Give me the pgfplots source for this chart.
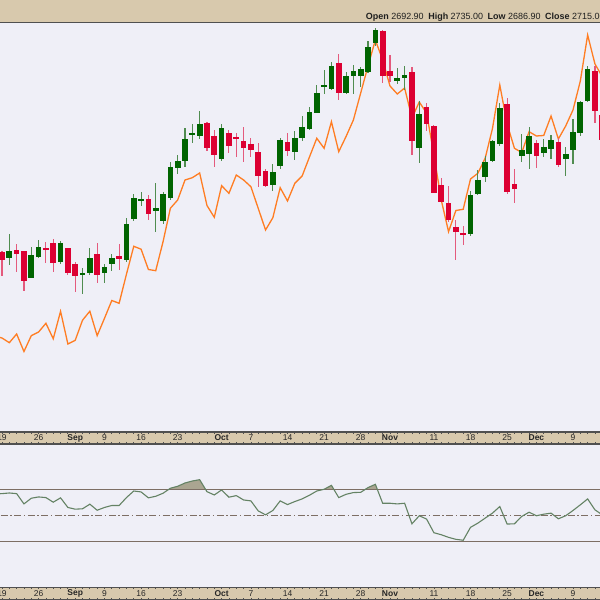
\documentclass[border=0pt]{standalone}
\usepackage{pgfplots}
\pgfplotsset{compat=1.18}
\usepackage{pgfplotstable}
\usepackage{fontspec}
\setmainfont{Liberation Sans}
\definecolor{bg}{RGB}{239,239,247}
\definecolor{tanb}{RGB}{216,201,173}
\definecolor{frame}{RGB}{80,80,80}
\definecolor{up}{RGB}{0,100,0}
\definecolor{down}{RGB}{220,0,50}
\definecolor{upw}{RGB}{80,140,80}
\definecolor{downw}{RGB}{228,90,125}
\definecolor{ora}{RGB}{255,125,35}
\definecolor{rsic}{RGB}{100,130,100}
\definecolor{lvl}{RGB}{125,110,100}
\definecolor{shade}{RGB}{170,165,145}

% candle data: body top, body bottom, high, low (chart units, downward)
\pgfplotstableread{
i bt bb hi lo
1 251 258.3 233.7 265
4 255 278.3 247.3 278.3
5 247.3 257.3 240 258.3
8 242.7 261.7 241 264.3
11 273 274.7 267.7 294.3
12 258 273 248.3 275
14 267 273.3 264 283.3
15 257.7 264.3 254.3 271
17 224.3 260 217.7 261.7
18 197.7 219 194.3 221
19 199.5 201 192.3 205.7
21 208.3 211 183.3 232.3
22 194.3 221 191.7 224.3
23 166.7 198.3 161.7 200
24 161 167.7 155 174
25 139 160.7 128.3 166.7
26 133 135 124 143.3
27 124 136 111 139.3
30 128 159 123.7 160.7
37 172 185 164 190.7
38 140 166 138.3 168.7
40 137.7 152.3 131 160
41 127 137.7 116 140.7
42 112.3 129 107.3 130
43 92.7 113.3 85 113.3
44 85 87.3 70 94.3
45 66 89 62.3 90
47 76 93.5 72 94
48 70.7 76 65.5 94
49 69.3 76 67 86.7
50 47.3 71.7 41.5 73.3
51 30 43 28.3 46
54 78.3 81 68.3 84.3
55 75 78.5 66 90
57 114.2 147.7 100.8 163.3
64 194.7 233.7 191 235.7
65 179.7 193.7 169.7 195.5
66 162 176.7 156 182
67 140.7 160.8 140 162
68 108 144.5 103 146
71 150 156 134 161.7
72 136 154.5 127 168.7
74 147.3 152.7 138.8 157.3
75 140 149.3 135.5 159
77 154.3 159.3 146.7 176
78 132 150 119.2 164
79 102.5 133.3 100.8 136.5
80 69.3 100.7 66 102.2
}\upbars

\pgfplotstableread{
i bt bb hi lo
0 252.3 260 251 275.7
2 249.7 254.3 244.3 271.7
3 251 281 251 291
6 248 249.7 241.7 262.7
7 243.3 262.7 239 271.7
9 248 273 248 275
10 263.7 276.3 261.7 291.7
13 254 275 243.3 283.3
16 255.7 258.7 244.3 270
20 199 214.3 195 220
28 123 148 121.7 150.7
29 136 155.3 130 167.3
31 132.7 146 130 152.7
32 136.7 138.7 133.3 156.7
33 141 147.7 127.3 161.7
34 144 149.7 137.7 157.3
35 152 176 143.3 186.7
36 171.3 185.7 169.3 187.3
39 142.3 150.7 132.7 155.7
46 63.3 93.3 54 100
52 31 76 30 82.7
53 70.7 76 55 82
56 72.3 140.7 66.7 155
58 106.7 124.2 103 130.7
59 126 192.7 125 192.7
60 185 202.3 178.3 202.3
61 203.3 220.5 186 222
62 226.7 231.7 220 259.7
63 233.5 235 226 245
69 104 192 98.3 193.7
70 184 189.3 169.3 203.3
73 142.7 156 140.3 168
76 141.7 165.3 137.8 167.5
81 71.3 111 66 122.7
82 115 140 110 142
}\downbars

\pgfplotstableread{
i v
-1 336
0 338
1 342.7
2 334
3 351.5
4 335.7
5 332
6 323.3
7 338.8
8 311.3
9 344
10 340.3
11 320.2
12 311.2
13 335.7
14 318.3
15 300.5
16 303.3
17 274.2
18 246.3
19 249.2
20 269.5
21 270.7
22 241.7
23 208.3
24 200
25 180
26 177.7
27 173
28 205.5
29 217.3
30 185.7
31 193.3
32 175
33 180
34 186.7
35 208.3
36 230
37 217.7
38 187.7
39 201
40 183.3
41 176
42 157
43 138.3
44 148.3
45 121.7
46 151.7
47 136.5
48 120
49 93
50 66
51 40
52 60
53 86
54 94
55 88
56 118
57 102
58 113
59 155
60 200
61 231.7
62 210.5
63 209.3
64 179
65 173.3
66 158.3
67 128.5
68 85
69 124
70 148.3
71 152.5
72 131.7
73 136
74 135.5
75 116
76 139
77 126
78 110
79 81
80 35
81 64
82 76.7
}\overlay

\pgfplotstableread{
i r
-1 66.5
0 66.7
1 67.2
2 66.7
3 58.9
4 63.2
5 64.2
6 63.7
7 60.2
8 63.5
9 56.2
10 54.9
11 55.2
12 58.7
13 54.1
14 56.2
15 57.7
16 57.7
17 63.7
18 68.7
19 68.0
20 63.5
21 64.7
22 67.0
23 70.8
24 72.3
25 74.8
26 76.3
27 77.3
28 68.2
29 65.7
30 69.5
31 64.0
32 65.2
33 61.9
34 61.2
35 53.6
36 50.6
37 53.9
38 61.2
39 58.4
40 60.7
41 62.7
42 65.5
43 68.7
44 70.0
45 73.0
46 63.7
47 66.2
48 67.5
49 67.7
50 71.3
51 73.8
52 59.4
53 59.4
54 58.9
55 59.4
56 43.8
57 49.9
58 47.4
59 37.0
60 35.5
61 33.5
62 32.0
63 31.3
64 41.1
65 44.3
66 48.1
67 51.9
68 56.9
69 43.6
70 43.8
71 49.4
72 52.6
73 49.9
74 51.1
75 51.9
76 47.6
77 49.9
78 53.9
79 58.2
80 62.7
81 54.4
82 50.6
}\rsitab

\pgfplotsset{
  band/.style={
    anchor=south west, width=600bp, scale only axis,
    xmin=-0.273, xmax=81.69, ymin=0, ymax=1,
    axis background/.style={fill=tanb},
    axis x line=box, axis y line=none,
    axis line style={frame, line width=1.2bp},
    tick align=inside,
    major tick length=1.6bp, minor tick length=1.6bp,
    tick style={frame, line width=0.8bp},
    xtick={0,5,10,14,19,24,30,34,39,44,49,53,59,64,69,73,78},
    xticklabels={19,26,\textbf{Sep},9,16,23,\textbf{Oct},7,14,21,28,\textbf{Nov},11,18,25,\textbf{Dec},9},
    minor xtick={1,2,3,4,6,7,8,9,11,12,13,15,16,17,18,20,21,22,23,25,26,27,28,29,31,32,33,35,36,37,38,40,41,42,43,45,46,47,48,50,51,52,54,55,56,57,58,60,61,62,63,65,66,67,68,70,71,72,74,75,76,77,79,80,81},
    ytick=\empty,
    xticklabel style={anchor=center, yshift=6bp, inner sep=0pt,
      font=\fontsize{8.5}{9}\selectfont, text=black!85},
  },
  candle/.style={draw=none, mark=none, forget plot,
    error bars/.cd, y dir=both, y explicit, error mark=none},
}

\begin{document}
\begin{tikzpicture}[x=1bp,y=1bp]
\useasboundingbox (0,0) rectangle (600,600);
\clip (0,0) rectangle (600,600);
\fill[bg] (0,0) rectangle (600,600);
\fill[tanb] (0,577.5) rectangle (600,600);
\draw[frame, line width=1.2bp] (0,577.5) -- (600,577.5);
\node[anchor=west, inner sep=0pt, font=\fontsize{9}{10}\selectfont, text=black!88] at (365.7,582.3)
  {\textbf{Open} 2692.90\hspace{4.6bp}\textbf{High} 2735.00\hspace{4.6bp}\textbf{Low} 2686.90\hspace{4.6bp}\textbf{Close} 2715.00};

% price panel
\begin{axis}[at={(0bp,168bp)}, anchor=south west, width=600bp, height=409.5bp, scale only axis,
  xmin=-0.273, xmax=81.69, ymin=22.5, ymax=432, y dir=reverse,
  axis line style={draw=none}, ticks=none]
\addplot[ora, line width=1.3bp] table[x=i, y=v] {\overlay};
\addplot[candle, error bar style={draw=upw, line width=1.1bp}]
  table[x=i, y expr={(\thisrow{hi}+\thisrow{lo})/2}, y error expr={(\thisrow{lo}-\thisrow{hi})/2}] {\upbars};
\addplot[candle, error bar style={draw=downw, line width=1.1bp}]
  table[x=i, y expr={(\thisrow{hi}+\thisrow{lo})/2}, y error expr={(\thisrow{lo}-\thisrow{hi})/2}] {\downbars};
\addplot[candle, error bar style={draw=up, line width=5.7bp}]
  table[x=i, y expr={(\thisrow{bt}+\thisrow{bb})/2}, y error expr={(\thisrow{bb}-\thisrow{bt})/2}] {\upbars};
\addplot[candle, error bar style={draw=down, line width=5.7bp}]
  table[x=i, y expr={(\thisrow{bt}+\thisrow{bb})/2}, y error expr={(\thisrow{bb}-\thisrow{bt})/2}] {\downbars};
\end{axis}

% date band 1
\begin{axis}[band, at={(0bp,156bp)}, height=12bp]
\end{axis}

% RSI panel
\begin{axis}[at={(0bp,13bp)}, anchor=south west, width=600bp, height=143bp, scale only axis,
  xmin=-0.273, xmax=81.69, ymin=-4.2, ymax=104.4,
  axis line style={draw=none}, ticks=none]
\addplot[fill=shade, draw=none] coordinates {(22.79,70) (23,70.8) (24,72.3) (25,74.8) (26,76.3) (27,77.3) (27.80,70)};
\addplot[fill=shade, draw=none] coordinates {(44,70) (45,73.0) (45.32,70)};
\addplot[fill=shade, draw=none] coordinates {(49.64,70) (50,71.3) (51,73.8) (51.26,70)};
\addplot[lvl, line width=1bp] coordinates {(-2,70) (84,70)};
\addplot[lvl, line width=1bp] coordinates {(-2,30) (84,30)};
\addplot[lvl, line width=0.9bp, dash pattern=on 7bp off 2.5bp on 1.5bp off 2.5bp] coordinates {(-2,50) (84,50)};
\addplot[rsic, line width=1.1bp] table[x=i, y=r] {\rsitab};
\end{axis}

% date band 2
\begin{axis}[band, at={(0bp,0.8bp)}, height=11.9bp]
\end{axis}
\end{tikzpicture}
\end{document}
